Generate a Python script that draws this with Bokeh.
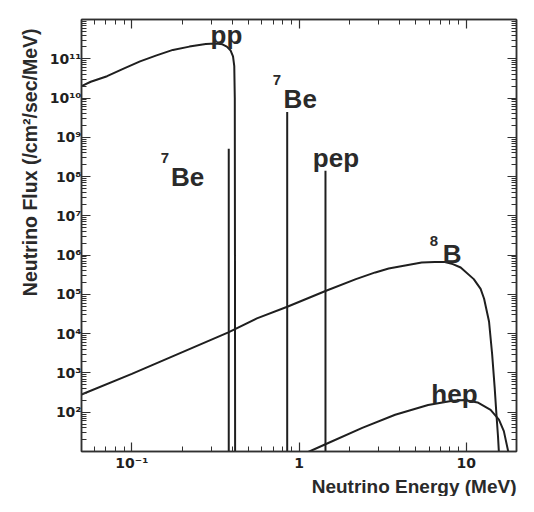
from bokeh.plotting import figure
from bokeh.models import LogAxis, FixedTicker, CustomJSTickFormatter, Label, Range1d, Title
from bokeh.embed import file_html
from bokeh.resources import INLINE

# ---------------- data ----------------
x_limits = [0.05, 20.0]          # MeV
y_limits = [1e1, 1e12]           # /cm^2/sec/MeV

x_major_ticks = [0.1, 1.0, 10.0]
y_major_ticks = [1e2, 1e3, 1e4, 1e5, 1e6, 1e7, 1e8, 1e9, 1e10, 1e11]

# pp continuum
pp_energy = [0.05, 0.0568, 0.0711, 0.0893, 0.112, 0.1406, 0.176, 0.221, 0.277, 0.318,
             0.348, 0.370, 0.390, 0.403, 0.410, 0.413, 0.414, 0.415]
pp_flux = [2.0e10, 2.6e10, 3.6e10, 5.62e10, 8.6e10, 1.22e11, 1.68e11, 2.04e11, 2.37e11, 2.46e11,
           2.33e11, 2.04e11, 1.62e11, 1.15e11, 6.5e10, 1.0e10, 1.0e6, 1.0]

# 8B continuum
b8_energy = [0.05, 0.1, 0.378, 0.560, 0.851, 1.44, 2.19, 2.86, 3.44, 5.42, 6.49, 7.45, 8.32,
             9.27, 11.1, 12.2, 12.8, 13.7, 14.3, 14.8, 15.2, 15.5, 15.7, 15.8]
b8_flux = [282, 950, 1.08e4, 2.45e4, 4.84e4, 1.22e5, 2.45e5, 3.63e5, 4.57e5, 6.46e5, 6.68e5, 6.68e5, 5.9e5,
           4.84e5, 2.45e5, 1.38e5, 7.76e4, 2.04e4, 2.99e3, 437, 77.6, 24.5, 9.3, 1.0]

# hep continuum
hep_energy = [1.11, 1.44, 2.39, 3.76, 5.92, 8.13, 9.75, 11.7, 14.0, 15.7, 16.8, 17.9, 18.3]
hep_flux = [9.3, 15.3, 39.8, 86, 153, 193, 204, 178, 115, 65, 33, 9.4, 1.0]

# line sources: 7Be (two lines) and pep
line_names = ["7Be", "7Be", "pep"]
line_energy = [0.38, 0.85, 1.44]
line_flux = [5.1e8, 4.4e9, 1.4e8]

# ---------------- styling ----------------
FONT = "Liberation Sans"
TICK_FONT = "DejaVu Sans"
INK = "#1f1f1f"
TXT = "#2a2a2a"
FRAME = "#303030"

p = figure(width=518, height=496,
           x_axis_type="log", y_axis_type="log",
           x_range=Range1d(*x_limits), y_range=Range1d(*y_limits),
           output_backend="svg", toolbar_location=None,
           min_border_left=81, min_border_right=2,
           min_border_top=19, min_border_bottom=44)

p.xgrid.visible = False
p.ygrid.visible = False
p.outline_line_color = FRAME
p.outline_line_width = 1.5
p.background_fill_color = "white"
p.border_fill_color = "white"


def minor_list(majors_lo, majors_hi):
    out = []
    for e in range(majors_lo, majors_hi + 1):
        for k in range(2, 10):
            out.append(k * 10.0 ** e)
    return out


x_ticker = FixedTicker(ticks=x_major_ticks, minor_ticks=minor_list(-2, 1))
y_ticker = FixedTicker(ticks=y_major_ticks, minor_ticks=minor_list(1, 11))

fmt = CustomJSTickFormatter(code="""
const sup = {"-":"\\u207b","0":"\\u2070","1":"\\u00b9","2":"\\u00b2","3":"\\u00b3",
             "4":"\\u2074","5":"\\u2075","6":"\\u2076","7":"\\u2077","8":"\\u2078","9":"\\u2079"};
const e = Math.round(Math.log10(tick));
if (e === 0) return "1";
if (e === 1) return "10";
return "10" + String(e).split("").map(c => sup[c]).join("");
""")
blank_fmt = CustomJSTickFormatter(code='return " ";')


def style_axis(ax, ticker, show_labels):
    ax.ticker = ticker
    ax.axis_line_color = FRAME
    ax.axis_line_width = 1.5
    ax.major_tick_line_color = FRAME
    ax.minor_tick_line_color = FRAME
    ax.major_tick_line_width = 1.2
    ax.minor_tick_line_width = 1
    ax.major_tick_in = 9
    ax.major_tick_out = 0
    ax.minor_tick_in = 5
    ax.minor_tick_out = 0
    if show_labels:
        ax.formatter = fmt
        ax.major_label_text_font = TICK_FONT
        ax.major_label_text_font_size = "14px"
        ax.major_label_text_font_style = "bold"
        ax.major_label_text_color = INK
    else:
        ax.formatter = blank_fmt
        ax.major_label_text_font_size = "2px"
        ax.major_label_text_alpha = 0
        ax.major_label_standoff = 0


xax = p.xaxis[0]
yax = p.yaxis[0]
style_axis(xax, x_ticker, True)
style_axis(yax, y_ticker, True)
xax.major_label_standoff = 3
yax.major_label_standoff = 0

top_axis = LogAxis()
right_axis = LogAxis()
style_axis(top_axis, x_ticker, False)
style_axis(right_axis, y_ticker, False)
p.add_layout(top_axis, "above")
p.add_layout(right_axis, "right")

# ---------------- curves ----------------
for xs, ys in [(pp_energy, pp_flux), (b8_energy, b8_flux), (hep_energy, hep_flux)]:
    p.line(xs, ys, line_color=INK, line_width=2)

p.segment(x0=line_energy, y0=[y_limits[0] / 10] * len(line_energy),
          x1=line_energy, y1=line_flux, line_color=INK, line_width=2)

# ---------------- source labels ----------------
big = dict(text_font=FONT, text_font_size="26px", text_font_style="bold",
           text_color=TXT, text_baseline="alphabetic", text_align="left")
small = dict(text_font=FONT, text_font_size="15px", text_font_style="bold",
             text_color=TXT, text_baseline="alphabetic", text_align="left")

labels = [
    ("pp", 0.296, 4.1e11, big),
    ("7", 0.149, 2.93e8, small), ("Be", 0.1716, 1.0e8, big),
    ("7", 0.697, 2.93e10, small), ("Be", 0.809, 9.28e9, big),
    ("pep", 1.21, 2.93e8, big),
    ("8", 6.05, 2.24e6, small), ("B", 7.23, 1.04e6, big),
    ("hep", 6.19, 299, big),
]
for txt, lx, ly, st in labels:
    p.add_layout(Label(x=lx, y=ly, text=txt, **st))

# ---------------- axis titles ----------------
p.add_layout(Title(text="Neutrino Energy (MeV)", align="right", offset=0, standoff=0,
                   text_font=FONT, text_font_size="19px", text_font_style="bold",
                   text_color=TXT), "below")
p.add_layout(Title(text="Neutrino Flux (/cm\u00b2/sec/MeV)", align="right", offset=9, standoff=12,
                   text_font=FONT, text_font_size="19.5px", text_font_style="bold",
                   text_color=TXT), "left")

open("out.html", "w").write(file_html(p, INLINE))
